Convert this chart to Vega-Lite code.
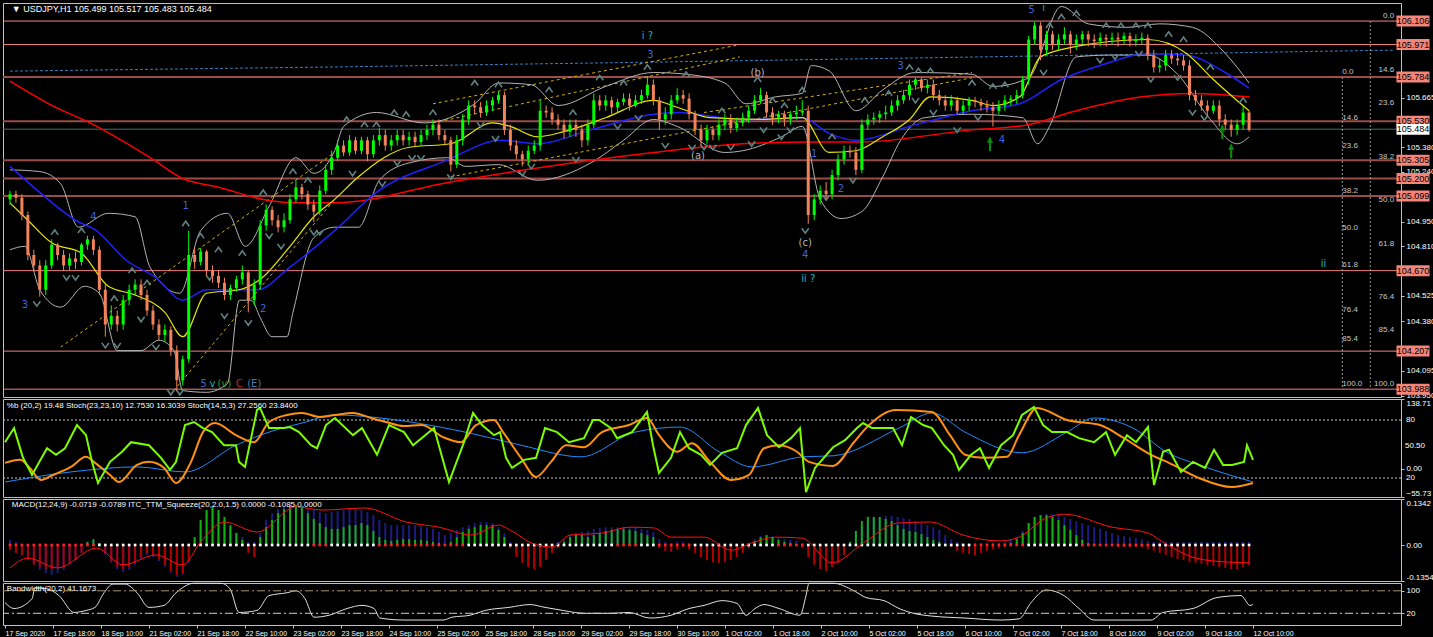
{
"$schema":"https://vega.github.io/schema/vega-lite/v6.json",
"background":"#000000",
"padding":{"left":0,"top":2,"right":0,"bottom":0},
"spacing":2,
"bounds":"flush",
"config":{"view":{"stroke":"#c0c0c0","strokeWidth":1},"axis":{"labelFont":"Liberation Sans","labelFontSize":8,"labelColor":"#ffffff","tickColor":"#c0c0c0","domain":false,"grid":false,"tickSize":3,"labelPadding":2,"labelOverlap":false},"text":{"font":"Liberation Sans"}},
"datasets":{
"c":[
{"n":0,"o":105.08,"h":105.13,"l":105.05,"c":105.11,"d":-0.015,"v":0.015,"q":1},
{"n":2,"o":105.11,"h":105.13,"l":105.06,"c":105.09,"d":-0.023,"v":0.009,"q":1},
{"n":4,"o":105.09,"h":105.11,"l":104.96,"c":104.99,"d":-0.029,"v":-0.009,"q":1},
{"n":6,"o":104.99,"h":105.01,"l":104.73,"c":104.76,"d":-0.044,"v":-0.029,"q":1},
{"n":8,"o":104.76,"h":104.79,"l":104.67,"c":104.70,"d":-0.058,"v":-0.052,"q":1},
{"n":10,"o":104.70,"h":104.73,"l":104.52,"c":104.56,"d":-0.064,"v":-0.073,"q":1},
{"n":12,"o":104.56,"h":104.73,"l":104.53,"c":104.70,"d":-0.070,"v":-0.082,"q":1},
{"n":14,"o":104.70,"h":104.85,"l":104.68,"c":104.82,"d":-0.070,"v":-0.087,"q":1},
{"n":16,"o":104.82,"h":104.83,"l":104.73,"c":104.76,"d":-0.067,"v":-0.082,"q":1},
{"n":18,"o":104.76,"h":104.79,"l":104.67,"c":104.70,"d":-0.064,"v":-0.073,"q":1},
{"n":20,"o":104.70,"h":104.77,"l":104.67,"c":104.74,"d":-0.052,"v":-0.058,"q":1},
{"n":22,"o":104.74,"h":104.78,"l":104.68,"c":104.72,"d":-0.041,"v":-0.044,"q":1},
{"n":24,"o":104.72,"h":104.83,"l":104.70,"c":104.82,"d":-0.023,"v":-0.023,"q":1},
{"n":26,"o":104.82,"h":104.87,"l":104.79,"c":104.85,"d":0.009,"v":0.009,"q":1},
{"n":28,"o":104.85,"h":104.87,"l":104.76,"c":104.79,"d":0.017,"v":0.015,"q":1},
{"n":30,"o":104.79,"h":104.81,"l":104.53,"c":104.56,"d":0.006,"v":0.006,"q":0},
{"n":32,"o":104.56,"h":104.59,"l":104.29,"c":104.36,"d":-0.023,"v":-0.029,"q":0},
{"n":34,"o":104.36,"h":104.47,"l":104.33,"c":104.41,"d":-0.047,"v":-0.052,"q":0},
{"n":36,"o":104.41,"h":104.44,"l":104.32,"c":104.36,"d":-0.064,"v":-0.070,"q":0},
{"n":38,"o":104.36,"h":104.53,"l":104.33,"c":104.50,"d":-0.070,"v":-0.079,"q":0},
{"n":40,"o":104.50,"h":104.59,"l":104.47,"c":104.56,"d":-0.064,"v":-0.073,"q":0},
{"n":42,"o":104.56,"h":104.62,"l":104.53,"c":104.59,"d":-0.052,"v":-0.058,"q":0},
{"n":44,"o":104.59,"h":104.62,"l":104.50,"c":104.53,"d":-0.035,"v":-0.041,"q":0},
{"n":46,"o":104.53,"h":104.56,"l":104.41,"c":104.44,"d":-0.023,"v":-0.029,"q":0},
{"n":48,"o":104.44,"h":104.47,"l":104.33,"c":104.36,"d":-0.029,"v":-0.035,"q":0},
{"n":50,"o":104.36,"h":104.39,"l":104.27,"c":104.30,"d":-0.041,"v":-0.047,"q":0},
{"n":52,"o":104.30,"h":104.36,"l":104.26,"c":104.33,"d":-0.058,"v":-0.064,"q":0},
{"n":54,"o":104.33,"h":104.35,"l":104.18,"c":104.21,"d":-0.076,"v":-0.082,"q":0},
{"n":56,"o":104.21,"h":104.24,"l":103.98,"c":104.04,"d":-0.087,"v":-0.093,"q":0},
{"n":58,"o":104.04,"h":104.18,"l":104.01,"c":104.16,"d":-0.082,"v":-0.087,"q":0},
{"n":60,"o":104.16,"h":104.90,"l":104.14,"c":104.76,"d":-0.044,"v":-0.052,"q":0},
{"n":62,"o":104.76,"h":104.80,"l":104.68,"c":104.72,"d":0.023,"v":0.015,"q":0},
{"n":64,"o":104.72,"h":104.80,"l":104.70,"c":104.78,"d":0.073,"v":0.064,"q":0},
{"n":66,"o":104.78,"h":104.79,"l":104.64,"c":104.67,"d":0.102,"v":0.096,"q":0},
{"n":68,"o":104.67,"h":104.70,"l":104.60,"c":104.64,"d":0.111,"v":0.105,"q":0},
{"n":70,"o":104.64,"h":104.67,"l":104.57,"c":104.60,"d":0.102,"v":0.093,"q":0},
{"n":72,"o":104.60,"h":104.63,"l":104.50,"c":104.53,"d":0.082,"v":0.073,"q":0},
{"n":74,"o":104.53,"h":104.59,"l":104.50,"c":104.57,"d":0.058,"v":0.052,"q":0},
{"n":76,"o":104.57,"h":104.64,"l":104.55,"c":104.62,"d":0.035,"v":0.035,"q":0},
{"n":78,"o":104.62,"h":104.70,"l":104.59,"c":104.66,"d":0.015,"v":0.023,"q":0},
{"n":80,"o":104.66,"h":104.67,"l":104.43,"c":104.50,"d":-0.023,"v":0.009,"q":0},
{"n":82,"o":104.50,"h":104.62,"l":104.47,"c":104.59,"d":-0.035,"v":0.009,"q":0},
{"n":84,"o":104.59,"h":104.96,"l":104.56,"c":104.93,"d":0.023,"v":0.035,"q":0},
{"n":86,"o":104.93,"h":105.05,"l":104.90,"c":105.02,"d":0.052,"v":0.073,"q":0},
{"n":88,"o":105.02,"h":105.04,"l":104.93,"c":104.96,"d":0.073,"v":0.093,"q":0},
{"n":90,"o":104.96,"h":104.99,"l":104.89,"c":104.92,"d":0.093,"v":0.105,"q":0},
{"n":92,"o":104.92,"h":105.00,"l":104.89,"c":104.96,"d":0.105,"v":0.111,"q":0},
{"n":94,"o":104.96,"h":105.11,"l":104.94,"c":105.08,"d":0.111,"v":0.117,"q":0},
{"n":96,"o":105.08,"h":105.19,"l":105.06,"c":105.15,"d":0.117,"v":0.117,"q":0},
{"n":98,"o":105.15,"h":105.17,"l":105.08,"c":105.11,"d":0.111,"v":0.114,"q":0},
{"n":100,"o":105.11,"h":105.13,"l":105.02,"c":105.05,"d":0.093,"v":0.108,"q":0},
{"n":102,"o":105.05,"h":105.08,"l":104.95,"c":105.01,"d":0.076,"v":0.102,"q":1},
{"n":104,"o":105.01,"h":105.16,"l":104.99,"c":105.13,"d":0.064,"v":0.096,"q":1},
{"n":106,"o":105.13,"h":105.28,"l":105.11,"c":105.25,"d":0.052,"v":0.093,"q":1},
{"n":108,"o":105.25,"h":105.36,"l":105.22,"c":105.32,"d":0.047,"v":0.096,"q":0},
{"n":110,"o":105.32,"h":105.42,"l":105.30,"c":105.39,"d":0.047,"v":0.099,"q":0},
{"n":112,"o":105.39,"h":105.42,"l":105.33,"c":105.35,"d":0.052,"v":0.102,"q":0},
{"n":114,"o":105.35,"h":105.45,"l":105.33,"c":105.42,"d":0.058,"v":0.105,"q":0},
{"n":116,"o":105.42,"h":105.44,"l":105.34,"c":105.36,"d":0.058,"v":0.105,"q":0},
{"n":118,"o":105.36,"h":105.44,"l":105.34,"c":105.42,"d":0.064,"v":0.102,"q":0},
{"n":120,"o":105.42,"h":105.44,"l":105.30,"c":105.34,"d":0.058,"v":0.096,"q":0},
{"n":122,"o":105.34,"h":105.45,"l":105.32,"c":105.42,"d":0.041,"v":0.087,"q":0},
{"n":124,"o":105.42,"h":105.49,"l":105.39,"c":105.45,"d":0.023,"v":0.073,"q":1},
{"n":126,"o":105.45,"h":105.48,"l":105.36,"c":105.39,"d":0.015,"v":0.064,"q":1},
{"n":128,"o":105.39,"h":105.45,"l":105.36,"c":105.42,"d":0.012,"v":0.058,"q":1},
{"n":130,"o":105.42,"h":105.48,"l":105.39,"c":105.45,"d":0.015,"v":0.058,"q":1},
{"n":132,"o":105.45,"h":105.48,"l":105.39,"c":105.42,"d":0.017,"v":0.058,"q":1},
{"n":134,"o":105.42,"h":105.47,"l":105.39,"c":105.44,"d":0.017,"v":0.058,"q":1},
{"n":136,"o":105.44,"h":105.47,"l":105.38,"c":105.41,"d":0.015,"v":0.058,"q":1},
{"n":138,"o":105.41,"h":105.48,"l":105.39,"c":105.45,"d":0.015,"v":0.055,"q":1},
{"n":140,"o":105.45,"h":105.51,"l":105.42,"c":105.48,"d":0.012,"v":0.052,"q":1},
{"n":142,"o":105.48,"h":105.54,"l":105.45,"c":105.51,"d":0.009,"v":0.047,"q":1},
{"n":144,"o":105.51,"h":105.54,"l":105.42,"c":105.45,"d":0.006,"v":0.038,"q":1},
{"n":146,"o":105.45,"h":105.48,"l":105.39,"c":105.42,"d":0.001,"v":0.029,"q":1},
{"n":148,"o":105.42,"h":105.44,"l":105.24,"c":105.28,"d":0.009,"v":0.035,"q":1},
{"n":150,"o":105.28,"h":105.45,"l":105.26,"c":105.42,"d":0.023,"v":0.044,"q":1},
{"n":152,"o":105.42,"h":105.57,"l":105.39,"c":105.54,"d":0.038,"v":0.052,"q":1},
{"n":154,"o":105.54,"h":105.65,"l":105.51,"c":105.62,"d":0.047,"v":0.058,"q":0},
{"n":156,"o":105.62,"h":105.65,"l":105.57,"c":105.61,"d":0.052,"v":0.064,"q":0},
{"n":158,"o":105.61,"h":105.64,"l":105.55,"c":105.58,"d":0.058,"v":0.067,"q":0},
{"n":160,"o":105.58,"h":105.65,"l":105.56,"c":105.62,"d":0.058,"v":0.067,"q":0},
{"n":162,"o":105.62,"h":105.67,"l":105.59,"c":105.65,"d":0.058,"v":0.064,"q":0},
{"n":164,"o":105.65,"h":105.70,"l":105.63,"c":105.68,"d":0.044,"v":0.052,"q":0},
{"n":166,"o":105.68,"h":105.70,"l":105.45,"c":105.48,"d":0.023,"v":0.035,"q":0},
{"n":168,"o":105.48,"h":105.51,"l":105.36,"c":105.39,"d":-0.009,"v":0.009,"q":0},
{"n":170,"o":105.39,"h":105.42,"l":105.31,"c":105.34,"d":-0.035,"v":-0.023,"q":0},
{"n":172,"o":105.34,"h":105.36,"l":105.27,"c":105.31,"d":-0.052,"v":-0.044,"q":0},
{"n":174,"o":105.31,"h":105.39,"l":105.28,"c":105.36,"d":-0.064,"v":-0.058,"q":0},
{"n":176,"o":105.36,"h":105.42,"l":105.34,"c":105.39,"d":-0.070,"v":-0.064,"q":0},
{"n":178,"o":105.39,"h":105.65,"l":105.36,"c":105.59,"d":-0.064,"v":-0.058,"q":0},
{"n":180,"o":105.59,"h":105.62,"l":105.55,"c":105.58,"d":-0.044,"v":-0.035,"q":0},
{"n":182,"o":105.58,"h":105.61,"l":105.51,"c":105.54,"d":-0.023,"v":-0.017,"q":0},
{"n":184,"o":105.54,"h":105.57,"l":105.48,"c":105.51,"d":-0.009,"v":0.009,"q":0},
{"n":186,"o":105.51,"h":105.54,"l":105.43,"c":105.47,"d":0.009,"v":0.017,"q":0},
{"n":188,"o":105.47,"h":105.54,"l":105.44,"c":105.51,"d":0.023,"v":0.029,"q":0},
{"n":190,"o":105.51,"h":105.54,"l":105.44,"c":105.48,"d":0.029,"v":0.035,"q":0},
{"n":192,"o":105.48,"h":105.51,"l":105.38,"c":105.42,"d":0.029,"v":0.038,"q":0},
{"n":194,"o":105.42,"h":105.54,"l":105.39,"c":105.51,"d":0.023,"v":0.041,"q":0},
{"n":196,"o":105.51,"h":105.69,"l":105.49,"c":105.65,"d":0.029,"v":0.047,"q":0},
{"n":198,"o":105.65,"h":105.68,"l":105.59,"c":105.62,"d":0.035,"v":0.050,"q":0},
{"n":200,"o":105.62,"h":105.68,"l":105.59,"c":105.65,"d":0.041,"v":0.052,"q":0},
{"n":202,"o":105.65,"h":105.67,"l":105.57,"c":105.61,"d":0.044,"v":0.052,"q":0},
{"n":204,"o":105.61,"h":105.66,"l":105.58,"c":105.64,"d":0.047,"v":0.052,"q":1},
{"n":206,"o":105.64,"h":105.69,"l":105.62,"c":105.66,"d":0.047,"v":0.052,"q":1},
{"n":208,"o":105.66,"h":105.69,"l":105.59,"c":105.62,"d":0.044,"v":0.052,"q":1},
{"n":210,"o":105.62,"h":105.68,"l":105.61,"c":105.65,"d":0.041,"v":0.050,"q":1},
{"n":212,"o":105.65,"h":105.71,"l":105.63,"c":105.68,"d":0.035,"v":0.047,"q":0},
{"n":214,"o":105.68,"h":105.79,"l":105.66,"c":105.74,"d":0.029,"v":0.044,"q":0},
{"n":216,"o":105.74,"h":105.77,"l":105.62,"c":105.65,"d":0.023,"v":0.038,"q":0},
{"n":218,"o":105.65,"h":105.67,"l":105.48,"c":105.54,"d":-0.009,"v":0.017,"q":1},
{"n":220,"o":105.54,"h":105.61,"l":105.51,"c":105.57,"d":-0.017,"v":0.009,"q":1},
{"n":222,"o":105.57,"h":105.68,"l":105.54,"c":105.65,"d":-0.020,"v":0.006,"q":1},
{"n":224,"o":105.65,"h":105.72,"l":105.63,"c":105.68,"d":-0.012,"v":0.009,"q":1},
{"n":226,"o":105.68,"h":105.71,"l":105.63,"c":105.66,"d":-0.006,"v":0.009,"q":1},
{"n":228,"o":105.66,"h":105.69,"l":105.54,"c":105.57,"d":-0.012,"v":0.006,"q":1},
{"n":230,"o":105.57,"h":105.59,"l":105.45,"c":105.48,"d":-0.023,"v":-0.009,"q":0},
{"n":232,"o":105.48,"h":105.51,"l":105.39,"c":105.42,"d":-0.035,"v":-0.017,"q":0},
{"n":234,"o":105.42,"h":105.51,"l":105.40,"c":105.48,"d":-0.044,"v":-0.029,"q":0},
{"n":236,"o":105.48,"h":105.50,"l":105.42,"c":105.45,"d":-0.050,"v":-0.035,"q":0},
{"n":238,"o":105.45,"h":105.54,"l":105.42,"c":105.51,"d":-0.052,"v":-0.041,"q":0},
{"n":240,"o":105.51,"h":105.57,"l":105.48,"c":105.54,"d":-0.050,"v":-0.041,"q":0},
{"n":242,"o":105.54,"h":105.57,"l":105.46,"c":105.49,"d":-0.044,"v":-0.035,"q":0},
{"n":244,"o":105.49,"h":105.55,"l":105.47,"c":105.52,"d":-0.035,"v":-0.026,"q":0},
{"n":246,"o":105.52,"h":105.58,"l":105.50,"c":105.55,"d":-0.023,"v":-0.015,"q":0},
{"n":248,"o":105.55,"h":105.62,"l":105.52,"c":105.59,"d":-0.009,"v":0.006,"q":0},
{"n":250,"o":105.59,"h":105.68,"l":105.57,"c":105.65,"d":0.012,"v":0.017,"q":0},
{"n":252,"o":105.65,"h":105.72,"l":105.63,"c":105.68,"d":0.023,"v":0.026,"q":0},
{"n":254,"o":105.68,"h":105.70,"l":105.55,"c":105.58,"d":0.029,"v":0.029,"q":0},
{"n":256,"o":105.58,"h":105.61,"l":105.51,"c":105.55,"d":0.023,"v":0.026,"q":0},
{"n":258,"o":105.55,"h":105.59,"l":105.52,"c":105.57,"d":0.015,"v":0.020,"q":1},
{"n":260,"o":105.57,"h":105.59,"l":105.50,"c":105.54,"d":0.009,"v":0.017,"q":1},
{"n":262,"o":105.54,"h":105.59,"l":105.51,"c":105.57,"d":0.006,"v":0.015,"q":1},
{"n":264,"o":105.57,"h":105.62,"l":105.54,"c":105.58,"d":0.003,"v":0.012,"q":1},
{"n":266,"o":105.58,"h":105.65,"l":105.56,"c":105.59,"d":-0.009,"v":0.006,"q":1},
{"n":268,"o":105.59,"h":105.62,"l":104.94,"c":104.99,"d":-0.035,"v":-0.017,"q":0},
{"n":270,"o":104.99,"h":105.11,"l":104.96,"c":105.08,"d":-0.058,"v":-0.041,"q":0},
{"n":272,"o":105.08,"h":105.16,"l":105.05,"c":105.13,"d":-0.070,"v":-0.058,"q":0},
{"n":274,"o":105.13,"h":105.18,"l":105.08,"c":105.11,"d":-0.076,"v":-0.070,"q":0},
{"n":276,"o":105.11,"h":105.25,"l":105.08,"c":105.22,"d":-0.064,"v":-0.064,"q":0},
{"n":278,"o":105.22,"h":105.34,"l":105.19,"c":105.31,"d":-0.052,"v":-0.052,"q":0},
{"n":280,"o":105.31,"h":105.39,"l":105.28,"c":105.36,"d":-0.029,"v":-0.029,"q":0},
{"n":282,"o":105.36,"h":105.39,"l":105.32,"c":105.35,"d":0.009,"v":0.009,"q":0},
{"n":284,"o":105.35,"h":105.38,"l":105.22,"c":105.25,"d":0.041,"v":0.029,"q":0},
{"n":286,"o":105.25,"h":105.54,"l":105.23,"c":105.51,"d":0.070,"v":0.052,"q":0},
{"n":288,"o":105.51,"h":105.57,"l":105.48,"c":105.54,"d":0.082,"v":0.070,"q":0},
{"n":290,"o":105.54,"h":105.58,"l":105.51,"c":105.55,"d":0.082,"v":0.079,"q":0},
{"n":292,"o":105.55,"h":105.59,"l":105.52,"c":105.57,"d":0.082,"v":0.082,"q":0},
{"n":294,"o":105.57,"h":105.62,"l":105.54,"c":105.58,"d":0.076,"v":0.085,"q":0},
{"n":296,"o":105.58,"h":105.65,"l":105.56,"c":105.62,"d":0.070,"v":0.085,"q":0},
{"n":298,"o":105.62,"h":105.68,"l":105.59,"c":105.65,"d":0.058,"v":0.082,"q":0},
{"n":300,"o":105.65,"h":105.71,"l":105.63,"c":105.68,"d":0.047,"v":0.079,"q":0},
{"n":302,"o":105.68,"h":105.77,"l":105.65,"c":105.74,"d":0.041,"v":0.076,"q":0},
{"n":304,"o":105.74,"h":105.78,"l":105.71,"c":105.77,"d":0.038,"v":0.070,"q":0},
{"n":306,"o":105.77,"h":105.78,"l":105.70,"c":105.72,"d":0.032,"v":0.064,"q":0},
{"n":308,"o":105.72,"h":105.77,"l":105.69,"c":105.74,"d":0.023,"v":0.058,"q":0},
{"n":310,"o":105.74,"h":105.77,"l":105.65,"c":105.68,"d":0.015,"v":0.052,"q":0},
{"n":312,"o":105.68,"h":105.71,"l":105.62,"c":105.65,"d":0.009,"v":0.044,"q":0},
{"n":314,"o":105.65,"h":105.68,"l":105.59,"c":105.62,"d":0.003,"v":0.029,"q":0},
{"n":316,"o":105.62,"h":105.68,"l":105.59,"c":105.65,"d":-0.006,"v":0.017,"q":0},
{"n":318,"o":105.65,"h":105.67,"l":105.57,"c":105.59,"d":-0.017,"v":0.009,"q":0},
{"n":320,"o":105.59,"h":105.65,"l":105.57,"c":105.62,"d":-0.023,"v":0.006,"q":0},
{"n":322,"o":105.62,"h":105.67,"l":105.59,"c":105.65,"d":-0.026,"v":0.006,"q":0},
{"n":324,"o":105.65,"h":105.67,"l":105.61,"c":105.64,"d":-0.029,"v":0.006,"q":1},
{"n":326,"o":105.64,"h":105.66,"l":105.59,"c":105.62,"d":-0.023,"v":0.006,"q":1},
{"n":328,"o":105.62,"h":105.65,"l":105.58,"c":105.61,"d":-0.017,"v":0.006,"q":1},
{"n":330,"o":105.61,"h":105.64,"l":105.50,"c":105.59,"d":-0.012,"v":0.006,"q":1},
{"n":332,"o":105.59,"h":105.65,"l":105.57,"c":105.62,"d":-0.009,"v":0.006,"q":1},
{"n":334,"o":105.62,"h":105.68,"l":105.59,"c":105.65,"d":-0.006,"v":0.009,"q":1},
{"n":336,"o":105.65,"h":105.68,"l":105.62,"c":105.66,"d":0.006,"v":0.015,"q":1},
{"n":338,"o":105.66,"h":105.71,"l":105.63,"c":105.68,"d":0.017,"v":0.023,"q":1},
{"n":340,"o":105.68,"h":105.79,"l":105.66,"c":105.77,"d":0.035,"v":0.041,"q":1},
{"n":342,"o":105.77,"h":106.02,"l":105.74,"c":106.00,"d":0.064,"v":0.064,"q":0},
{"n":344,"o":106.00,"h":106.10,"l":105.97,"c":106.08,"d":0.082,"v":0.082,"q":0},
{"n":346,"o":106.08,"h":106.10,"l":105.88,"c":105.94,"d":0.087,"v":0.087,"q":0},
{"n":348,"o":105.94,"h":106.05,"l":105.91,"c":106.03,"d":0.087,"v":0.090,"q":0},
{"n":350,"o":106.03,"h":106.05,"l":105.94,"c":105.97,"d":0.082,"v":0.090,"q":0},
{"n":352,"o":105.97,"h":106.03,"l":105.94,"c":106.00,"d":0.073,"v":0.087,"q":0},
{"n":354,"o":106.00,"h":106.07,"l":105.97,"c":106.03,"d":0.058,"v":0.082,"q":0},
{"n":356,"o":106.03,"h":106.05,"l":105.92,"c":105.97,"d":0.044,"v":0.076,"q":0},
{"n":358,"o":105.97,"h":106.03,"l":105.94,"c":106.00,"d":0.029,"v":0.070,"q":0},
{"n":360,"o":106.00,"h":106.05,"l":105.97,"c":106.03,"d":0.015,"v":0.064,"q":1},
{"n":362,"o":106.03,"h":106.05,"l":105.96,"c":106.00,"d":0.006,"v":0.058,"q":1},
{"n":364,"o":106.00,"h":106.03,"l":105.95,"c":105.99,"d":0.001,"v":0.052,"q":1},
{"n":366,"o":105.99,"h":106.04,"l":105.96,"c":106.01,"d":-0.003,"v":0.047,"q":1},
{"n":368,"o":106.01,"h":106.03,"l":105.96,"c":106.00,"d":-0.003,"v":0.041,"q":1},
{"n":370,"o":106.00,"h":106.04,"l":105.97,"c":106.01,"d":-0.003,"v":0.035,"q":1},
{"n":372,"o":106.01,"h":106.04,"l":105.96,"c":106.00,"d":-0.006,"v":0.029,"q":1},
{"n":374,"o":106.00,"h":106.04,"l":105.97,"c":106.02,"d":-0.006,"v":0.026,"q":1},
{"n":376,"o":106.02,"h":106.04,"l":105.96,"c":105.99,"d":-0.006,"v":0.023,"q":1},
{"n":378,"o":105.99,"h":106.03,"l":105.96,"c":106.00,"d":-0.006,"v":0.020,"q":1},
{"n":380,"o":106.00,"h":106.04,"l":105.97,"c":106.01,"d":-0.006,"v":0.017,"q":1},
{"n":382,"o":106.01,"h":106.03,"l":105.88,"c":105.91,"d":-0.012,"v":0.012,"q":1},
{"n":384,"o":105.91,"h":105.94,"l":105.81,"c":105.84,"d":-0.017,"v":0.009,"q":0},
{"n":386,"o":105.84,"h":105.89,"l":105.81,"c":105.85,"d":-0.023,"v":0.009,"q":0},
{"n":388,"o":105.85,"h":105.94,"l":105.82,"c":105.91,"d":-0.029,"v":0.009,"q":0},
{"n":390,"o":105.91,"h":105.94,"l":105.86,"c":105.89,"d":-0.035,"v":0.009,"q":0},
{"n":392,"o":105.89,"h":105.92,"l":105.85,"c":105.88,"d":-0.041,"v":0.009,"q":0},
{"n":394,"o":105.88,"h":105.91,"l":105.82,"c":105.85,"d":-0.044,"v":0.009,"q":0},
{"n":396,"o":105.85,"h":105.88,"l":105.65,"c":105.68,"d":-0.050,"v":0.009,"q":0},
{"n":398,"o":105.68,"h":105.71,"l":105.62,"c":105.65,"d":-0.052,"v":0.009,"q":0},
{"n":400,"o":105.65,"h":105.68,"l":105.59,"c":105.62,"d":-0.055,"v":0.009,"q":0},
{"n":402,"o":105.62,"h":105.65,"l":105.56,"c":105.59,"d":-0.058,"v":0.009,"q":0},
{"n":404,"o":105.59,"h":105.65,"l":105.57,"c":105.62,"d":-0.061,"v":0.009,"q":0},
{"n":406,"o":105.62,"h":105.65,"l":105.50,"c":105.54,"d":-0.064,"v":0.009,"q":0},
{"n":408,"o":105.54,"h":105.57,"l":105.48,"c":105.51,"d":-0.067,"v":0.009,"q":0},
{"n":410,"o":105.51,"h":105.54,"l":105.44,"c":105.48,"d":-0.070,"v":0.009,"q":0},
{"n":412,"o":105.48,"h":105.54,"l":105.45,"c":105.51,"d":-0.070,"v":0.009,"q":0},
{"n":414,"o":105.51,"h":105.62,"l":105.48,"c":105.58,"d":-0.064,"v":0.009,"q":0},
{"n":416,"o":105.58,"h":105.59,"l":105.47,"c":105.48,"d":-0.058,"v":0.009,"q":0}
],
"ind":[
{"k":"r","n":0,"p":105.76},{"k":"r","n":13,"p":105.63},{"k":"r","n":28,"p":105.51},{"k":"r","n":48,"p":105.31},{"k":"r","n":58,"p":105.20},{"k":"r","n":70,"p":105.15},{"k":"r","n":85,"p":105.08},{"k":"r","n":96,"p":105.06},{"k":"r","n":109,"p":105.06},{"k":"r","n":148,"p":105.18},{"k":"r","n":173,"p":105.25},{"k":"r","n":216,"p":105.35},{"k":"r","n":246,"p":105.40},{"k":"r","n":268,"p":105.41},{"k":"r","n":285,"p":105.41},{"k":"r","n":323,"p":105.48},{"k":"r","n":342,"p":105.51},{"k":"r","n":358,"p":105.59},{"k":"r","n":380,"p":105.67},{"k":"r","n":397,"p":105.69},{"k":"r","n":416,"p":105.67},
{"k":"u","n":0,"p":105.27},{"k":"u","n":10,"p":105.12},{"k":"u","n":22,"p":104.96},{"k":"u","n":29,"p":104.90},{"k":"u","n":39,"p":104.73},{"k":"u","n":49,"p":104.63},{"k":"u","n":58,"p":104.50},{"k":"u","n":66,"p":104.56},{"k":"u","n":83,"p":104.56},{"k":"u","n":94,"p":104.69},{"k":"u","n":109,"p":104.90},{"k":"u","n":123,"p":105.12},{"k":"u","n":146,"p":105.30},{"k":"u","n":165,"p":105.42},{"k":"u","n":177,"p":105.40},{"k":"u","n":195,"p":105.48},{"k":"u","n":216,"p":105.57},{"k":"u","n":224,"p":105.58},{"k":"u","n":246,"p":105.54},{"k":"u","n":266,"p":105.55},{"k":"u","n":275,"p":105.46},{"k":"u","n":284,"p":105.42},{"k":"u","n":302,"p":105.50},{"k":"u","n":323,"p":105.59},{"k":"u","n":339,"p":105.63},{"k":"u","n":353,"p":105.77},{"k":"u","n":366,"p":105.85},{"k":"u","n":382,"p":105.92},{"k":"u","n":395,"p":105.91},{"k":"u","n":408,"p":105.81},{"k":"u","n":416,"p":105.72},
{"k":"y","n":0,"p":105.06},{"k":"y","n":6,"p":104.96},{"k":"y","n":14,"p":104.83},{"k":"y","n":24,"p":104.77},{"k":"y","n":33,"p":104.58},{"k":"y","n":42,"p":104.53},{"k":"y","n":52,"p":104.43},{"k":"y","n":58,"p":104.29},{"k":"y","n":66,"p":104.54},{"k":"y","n":77,"p":104.56},{"k":"y","n":84,"p":104.62},{"k":"y","n":94,"p":104.81},{"k":"y","n":102,"p":104.98},{"k":"y","n":109,"p":105.08},{"k":"y","n":117,"p":105.21},{"k":"y","n":134,"p":105.38},{"k":"y","n":148,"p":105.40},{"k":"y","n":162,"p":105.52},{"k":"y","n":168,"p":105.50},{"k":"y","n":177,"p":105.44},{"k":"y","n":186,"p":105.47},{"k":"y","n":200,"p":105.55},{"k":"y","n":216,"p":105.65},{"k":"y","n":224,"p":105.61},{"k":"y","n":235,"p":105.55},{"k":"y","n":252,"p":105.54},{"k":"y","n":266,"p":105.55},{"k":"y","n":275,"p":105.35},{"k":"y","n":284,"p":105.36},{"k":"y","n":293,"p":105.44},{"k":"y","n":302,"p":105.54},{"k":"y","n":309,"p":105.67},{"k":"y","n":323,"p":105.65},{"k":"y","n":330,"p":105.62},{"k":"y","n":339,"p":105.67},{"k":"y","n":346,"p":105.90},{"k":"y","n":358,"p":105.96},{"k":"y","n":382,"p":106.00},{"k":"y","n":395,"p":105.92},{"k":"y","n":404,"p":105.77},{"k":"y","n":416,"p":105.59},
{"k":"bu","n":0,"p":105.25},{"k":"bu","n":10,"p":105.24},{"k":"bu","n":17,"p":105.17},{"k":"bu","n":23,"p":104.92},{"k":"bu","n":33,"p":105.00},{"k":"bu","n":42,"p":104.98},{"k":"bu","n":47,"p":104.69},{"k":"bu","n":57,"p":104.54},{"k":"bu","n":64,"p":104.90},{"k":"bu","n":73,"p":105.00},{"k":"bu","n":79,"p":104.81},{"k":"bu","n":87,"p":105.04},{"k":"bu","n":96,"p":105.32},{"k":"bu","n":102,"p":105.23},{"k":"bu","n":109,"p":105.36},{"k":"bu","n":112,"p":105.50},{"k":"bu","n":123,"p":105.58},{"k":"bu","n":139,"p":105.52},{"k":"bu","n":156,"p":105.63},{"k":"bu","n":164,"p":105.75},{"k":"bu","n":175,"p":105.74},{"k":"bu","n":184,"p":105.62},{"k":"bu","n":200,"p":105.73},{"k":"bu","n":216,"p":105.81},{"k":"bu","n":227,"p":105.80},{"k":"bu","n":240,"p":105.75},{"k":"bu","n":247,"p":105.63},{"k":"bu","n":257,"p":105.67},{"k":"bu","n":266,"p":105.69},{"k":"bu","n":269,"p":105.85},{"k":"bu","n":275,"p":105.82},{"k":"bu","n":284,"p":105.59},{"k":"bu","n":293,"p":105.71},{"k":"bu","n":304,"p":105.81},{"k":"bu","n":323,"p":105.80},{"k":"bu","n":330,"p":105.73},{"k":"bu","n":342,"p":105.78},{"k":"bu","n":353,"p":106.19},{"k":"bu","n":362,"p":106.09},{"k":"bu","n":375,"p":106.07},{"k":"bu","n":386,"p":106.09},{"k":"bu","n":397,"p":106.07},{"k":"bu","n":408,"p":105.92},{"k":"bu","n":416,"p":105.75},
{"k":"bl","n":0,"p":104.79},{"k":"bl","n":5,"p":104.81},{"k":"bl","n":10,"p":104.56},{"k":"bl","n":17,"p":104.46},{"k":"bl","n":25,"p":104.58},{"k":"bl","n":30,"p":104.54},{"k":"bl","n":36,"p":104.21},{"k":"bl","n":44,"p":104.21},{"k":"bl","n":50,"p":104.27},{"k":"bl","n":55,"p":104.21},{"k":"bl","n":58,"p":103.98},{"k":"bl","n":66,"p":103.97},{"k":"bl","n":73,"p":104.02},{"k":"bl","n":77,"p":104.50},{"k":"bl","n":81,"p":104.50},{"k":"bl","n":84,"p":104.40},{"k":"bl","n":88,"p":104.29},{"k":"bl","n":93,"p":104.29},{"k":"bl","n":95,"p":104.43},{"k":"bl","n":102,"p":104.86},{"k":"bl","n":109,"p":104.92},{"k":"bl","n":117,"p":104.92},{"k":"bl","n":124,"p":105.19},{"k":"bl","n":134,"p":105.29},{"k":"bl","n":147,"p":105.32},{"k":"bl","n":153,"p":105.27},{"k":"bl","n":164,"p":105.28},{"k":"bl","n":177,"p":105.19},{"k":"bl","n":195,"p":105.29},{"k":"bl","n":206,"p":105.42},{"k":"bl","n":216,"p":105.54},{"k":"bl","n":224,"p":105.50},{"k":"bl","n":240,"p":105.35},{"k":"bl","n":246,"p":105.36},{"k":"bl","n":259,"p":105.44},{"k":"bl","n":266,"p":105.50},{"k":"bl","n":272,"p":105.08},{"k":"bl","n":279,"p":104.97},{"k":"bl","n":286,"p":105.01},{"k":"bl","n":293,"p":105.21},{"k":"bl","n":299,"p":105.42},{"k":"bl","n":307,"p":105.55},{"k":"bl","n":323,"p":105.57},{"k":"bl","n":340,"p":105.55},{"k":"bl","n":345,"p":105.40},{"k":"bl","n":349,"p":105.50},{"k":"bl","n":358,"p":105.90},{"k":"bl","n":369,"p":105.91},{"k":"bl","n":382,"p":105.91},{"k":"bl","n":392,"p":105.80},{"k":"bl","n":403,"p":105.54},{"k":"bl","n":412,"p":105.40},{"k":"bl","n":416,"p":105.44}
],
"fr":[
{"u":1,"n":15,"p":104.89},{"u":1,"n":24,"p":104.90},{"u":1,"n":35,"p":104.51},{"u":1,"n":41,"p":104.67},{"u":1,"n":46,"p":104.60},{"u":1,"n":59,"p":104.94},{"u":1,"n":64,"p":104.87},{"u":1,"n":70,"p":104.79},{"u":1,"n":78,"p":104.77},{"u":1,"n":85,"p":105.12},{"u":1,"n":95,"p":105.24},{"u":1,"n":100,"p":105.19},{"u":1,"n":113,"p":105.54},{"u":1,"n":119,"p":105.51},{"u":1,"n":123,"p":105.51},{"u":1,"n":129,"p":105.58},{"u":1,"n":133,"p":105.57},{"u":1,"n":142,"p":105.58},{"u":1,"n":156,"p":105.75},{"u":1,"n":164,"p":105.74},{"u":1,"n":181,"p":105.71},{"u":1,"n":189,"p":105.58},{"u":1,"n":198,"p":105.78},{"u":1,"n":206,"p":105.75},{"u":1,"n":214,"p":105.84},{"u":1,"n":227,"p":105.80},{"u":1,"n":239,"p":105.59},{"u":1,"n":251,"p":105.77},{"u":1,"n":256,"p":105.65},{"u":1,"n":260,"p":105.62},{"u":1,"n":266,"p":105.71},{"u":1,"n":276,"p":105.44},{"u":1,"n":287,"p":105.65},{"u":1,"n":295,"p":105.69},{"u":1,"n":302,"p":105.84},{"u":1,"n":305,"p":105.82},{"u":1,"n":309,"p":105.82},{"u":1,"n":323,"p":105.75},{"u":1,"n":330,"p":105.73},{"u":1,"n":334,"p":105.74},{"u":1,"n":349,"p":106.08},{"u":1,"n":353,"p":106.13},{"u":1,"n":358,"p":106.15},{"u":1,"n":368,"p":106.08},{"u":1,"n":373,"p":106.08},{"u":1,"n":378,"p":106.08},{"u":1,"n":382,"p":106.08},{"u":1,"n":389,"p":106.03},{"u":1,"n":394,"p":106.00},{"u":1,"n":403,"p":105.84},{"u":1,"n":414,"p":105.65},
{"u":0,"n":9,"p":104.48},{"u":0,"n":19,"p":104.63},{"u":0,"n":22,"p":104.63},{"u":0,"n":32,"p":104.24},{"u":0,"n":36,"p":104.24},{"u":0,"n":44,"p":104.39},{"u":0,"n":49,"p":104.23},{"u":0,"n":54,"p":103.97},{"u":0,"n":57,"p":103.97},{"u":0,"n":67,"p":104.63},{"u":0,"n":72,"p":104.41},{"u":0,"n":80,"p":104.37},{"u":0,"n":87,"p":104.87},{"u":0,"n":91,"p":104.81},{"u":0,"n":102,"p":104.89},{"u":0,"n":104,"p":104.89},{"u":0,"n":115,"p":105.23},{"u":0,"n":125,"p":105.17},{"u":0,"n":130,"p":105.29},{"u":0,"n":135,"p":105.32},{"u":0,"n":138,"p":105.32},{"u":0,"n":148,"p":105.21},{"u":0,"n":158,"p":105.51},{"u":0,"n":163,"p":105.43},{"u":0,"n":172,"p":105.23},{"u":0,"n":175,"p":105.27},{"u":0,"n":190,"p":105.31},{"u":0,"n":204,"p":105.50},{"u":0,"n":211,"p":105.55},{"u":0,"n":220,"p":105.39},{"u":0,"n":229,"p":105.38},{"u":0,"n":233,"p":105.38},{"u":0,"n":236,"p":105.38},{"u":0,"n":242,"p":105.38},{"u":0,"n":249,"p":105.40},{"u":0,"n":253,"p":105.48},{"u":0,"n":259,"p":105.44},{"u":0,"n":262,"p":105.48},{"u":0,"n":267,"p":104.90},{"u":0,"n":274,"p":105.09},{"u":0,"n":283,"p":105.19},{"u":0,"n":304,"p":105.65},{"u":0,"n":310,"p":105.58},{"u":0,"n":318,"p":105.48},{"u":0,"n":325,"p":105.55},{"u":0,"n":347,"p":105.81},{"u":0,"n":366,"p":105.88},{"u":0,"n":371,"p":105.90},{"u":0,"n":379,"p":105.92},{"u":0,"n":383,"p":105.77},{"u":0,"n":392,"p":105.78},{"u":0,"n":397,"p":105.58},{"u":0,"n":401,"p":105.55}
],
"dash":[{"n":0,"p":105.818},{"n":109,"p":105.842},{"n":216,"p":105.870},{"n":323,"p":105.899},{"n":465,"p":105.939}],
"chan":[{"g":1,"n":17,"p":104.23},{"g":1,"n":109,"p":105.35},{"g":2,"n":55,"p":103.98},{"g":2,"n":109,"p":105.08},{"g":3,"n":142,"p":105.63},{"g":3,"n":245,"p":105.97},{"g":4,"n":142,"p":105.52},{"g":4,"n":245,"p":105.90},{"g":5,"n":148,"p":105.21},{"g":5,"n":323,"p":105.78},{"g":6,"n":233,"p":105.58},{"g":6,"n":323,"p":105.81}],
"lvl":[{"p":106.106,"t":"106.106","k":"a"},{"p":105.971,"t":"105.971","k":"a"},{"p":105.784,"t":"105.784","k":"b"},{"p":105.530,"t":"105.530","k":"b"},{"p":105.305,"t":"105.305","k":"b"},{"p":105.200,"t":"105.200","k":"b"},{"p":105.099,"t":"105.099","k":"b"},{"p":104.670,"t":"104.670","k":"a"},{"p":104.207,"t":"104.207","k":"a"},{"p":103.988,"t":"103.988","k":"a"},{"p":105.484,"t":"105.484","k":"c"}],
"wave":[{"n":5,"p":104.47,"t":"3","g":"b"},{"n":28,"p":104.98,"t":"4","g":"b"},{"n":59,"p":105.04,"t":"1","g":"b"},{"n":85,"p":104.45,"t":"2","g":"b"},{"n":65,"p":104.02,"t":"5","g":"b"},{"n":68,"p":104.02,"t":"v","g":"c"},{"n":72,"p":104.02,"t":"(v)","g":"n"},{"n":77,"p":104.02,"t":"C","g":"r"},{"n":82,"p":104.02,"t":"(E)","g":"s"},{"n":214,"p":106.02,"t":"i ?","g":"c"},{"n":215,"p":105.91,"t":"3","g":"b"},{"n":251,"p":105.81,"t":"(b)","g":"g"},{"n":231,"p":105.33,"t":"(a)","g":"g"},{"n":270,"p":105.34,"t":"1","g":"b"},{"n":279,"p":105.14,"t":"2","g":"b"},{"n":267,"p":104.83,"t":"(c)","g":"g"},{"n":267,"p":104.76,"t":"4","g":"b"},{"n":268,"p":104.62,"t":"ii ?","g":"c"},{"n":299,"p":105.85,"t":"3","g":"b"},{"n":333,"p":105.42,"t":"4","g":"b"},{"n":343,"p":106.17,"t":"5","g":"b"},{"n":347,"p":106.18,"t":"i","g":"c"},{"n":441,"p":104.71,"t":"ii","g":"c"}],
"arw":[{"n":329,"p":105.40},{"n":407,"p":105.47},{"n":410,"p":105.36}],
"fib":[{"s":"L","p":105.784,"t":"0.0"},{"s":"L","p":105.522,"t":"14.6"},{"s":"L","p":105.360,"t":"23.6"},{"s":"L","p":105.098,"t":"38.2"},{"s":"L","p":104.886,"t":"50.0"},{"s":"L","p":104.674,"t":"61.8"},{"s":"L","p":104.412,"t":"76.4"},{"s":"L","p":104.250,"t":"85.4"},{"s":"L","p":103.988,"t":"100.0"},{"s":"R","p":106.106,"t":"0.0"},{"s":"R","p":105.797,"t":"14.6"},{"s":"R","p":105.606,"t":"23.6"},{"s":"R","p":105.297,"t":"38.2"},{"s":"R","p":105.047,"t":"50.0"},{"s":"R","p":104.797,"t":"61.8"},{"s":"R","p":104.488,"t":"76.4"},{"s":"R","p":104.297,"t":"85.4"},{"s":"R","p":103.988,"t":"100.0"}],
"fibv":[{"a":447.3,"p1":105.784,"p2":103.988},{"a":456.7,"p1":106.106,"p2":103.988}],
"st":[
{"k":"g","n":0,"v":53},{"k":"g","n":3,"v":81},{"k":"g","n":6,"v":22},{"k":"g","n":9,"v":-12},{"k":"g","n":14,"v":41},{"k":"g","n":17,"v":28},{"k":"g","n":20,"v":41},{"k":"g","n":24,"v":87},{"k":"g","n":27,"v":67},{"k":"g","n":29,"v":14},{"k":"g","n":31,"v":-28},{"k":"g","n":35,"v":14},{"k":"g","n":39,"v":34},{"k":"g","n":42,"v":53},{"k":"g","n":48,"v":47},{"k":"g","n":52,"v":22},{"k":"g","n":55,"v":-2},{"k":"g","n":57,"v":14},{"k":"g","n":60,"v":87},{"k":"g","n":63,"v":93},{"k":"g","n":66,"v":81},{"k":"g","n":69,"v":73},{"k":"g","n":73,"v":47},{"k":"g","n":77,"v":47},{"k":"g","n":78,"v":14},{"k":"g","n":80,"v":4},{"k":"g","n":84,"v":117},{"k":"g","n":85,"v":121},{"k":"g","n":88,"v":81},{"k":"g","n":93,"v":81},{"k":"g","n":95,"v":83},{"k":"g","n":98,"v":73},{"k":"g","n":102,"v":47},{"k":"g","n":104,"v":41},{"k":"g","n":107,"v":87},{"k":"g","n":110,"v":101},{"k":"g","n":116,"v":67},{"k":"g","n":119,"v":81},{"k":"g","n":124,"v":28},{"k":"g","n":128,"v":87},{"k":"g","n":133,"v":73},{"k":"g","n":136,"v":47},{"k":"g","n":143,"v":81},{"k":"g","n":148,"v":-26},{"k":"g","n":153,"v":53},{"k":"g","n":156,"v":111},{"k":"g","n":159,"v":87},{"k":"g","n":163,"v":67},{"k":"g","n":165,"v":73},{"k":"g","n":167,"v":22},{"k":"g","n":169,"v":2},{"k":"g","n":173,"v":18},{"k":"g","n":177,"v":22},{"k":"g","n":180,"v":81},{"k":"g","n":184,"v":73},{"k":"g","n":188,"v":53},{"k":"g","n":193,"v":61},{"k":"g","n":196,"v":97},{"k":"g","n":198,"v":97},{"k":"g","n":202,"v":81},{"k":"g","n":204,"v":61},{"k":"g","n":209,"v":73},{"k":"g","n":214,"v":113},{"k":"g","n":216,"v":47},{"k":"g","n":218,"v":-8},{"k":"g","n":222,"v":22},{"k":"g","n":225,"v":73},{"k":"g","n":228,"v":41},{"k":"g","n":232,"v":28},{"k":"g","n":235,"v":8},{"k":"g","n":239,"v":32},{"k":"g","n":244,"v":41},{"k":"g","n":247,"v":87},{"k":"g","n":251,"v":121},{"k":"g","n":254,"v":67},{"k":"g","n":258,"v":43},{"k":"g","n":262,"v":61},{"k":"g","n":265,"v":81},{"k":"g","n":267,"v":-46},{"k":"g","n":270,"v":2},{"k":"g","n":276,"v":43},{"k":"g","n":280,"v":57},{"k":"g","n":284,"v":81},{"k":"g","n":286,"v":91},{"k":"g","n":289,"v":81},{"k":"g","n":296,"v":81},{"k":"g","n":299,"v":47},{"k":"g","n":302,"v":103},{"k":"g","n":306,"v":87},{"k":"g","n":309,"v":81},{"k":"g","n":313,"v":47},{"k":"g","n":316,"v":28},{"k":"g","n":318,"v":-2},{"k":"g","n":322,"v":28},{"k":"g","n":325,"v":41},{"k":"g","n":328,"v":2},{"k":"g","n":332,"v":47},{"k":"g","n":336,"v":67},{"k":"g","n":339,"v":107},{"k":"g","n":343,"v":123},{"k":"g","n":346,"v":87},{"k":"g","n":349,"v":73},{"k":"g","n":354,"v":73},{"k":"g","n":358,"v":61},{"k":"g","n":363,"v":53},{"k":"g","n":367,"v":73},{"k":"g","n":370,"v":28},{"k":"g","n":374,"v":67},{"k":"g","n":377,"v":53},{"k":"g","n":381,"v":83},{"k":"g","n":383,"v":-32},{"k":"g","n":386,"v":34},{"k":"g","n":388,"v":38},{"k":"g","n":392,"v":-6},{"k":"g","n":396,"v":14},{"k":"g","n":400,"v":2},{"k":"g","n":403,"v":38},{"k":"g","n":406,"v":8},{"k":"g","n":409,"v":8},{"k":"g","n":413,"v":14},{"k":"g","n":414,"v":47},{"k":"g","n":416,"v":18},
{"k":"o","n":0,"v":12},{"k":"o","n":5,"v":18},{"k":"o","n":8,"v":4},{"k":"o","n":12,"v":-22},{"k":"o","n":16,"v":-12},{"k":"o","n":22,"v":4},{"k":"o","n":27,"v":24},{"k":"o","n":30,"v":12},{"k":"o","n":35,"v":-12},{"k":"o","n":38,"v":-26},{"k":"o","n":44,"v":8},{"k":"o","n":48,"v":14},{"k":"o","n":53,"v":2},{"k":"o","n":57,"v":-28},{"k":"o","n":62,"v":14},{"k":"o","n":66,"v":73},{"k":"o","n":70,"v":91},{"k":"o","n":77,"v":67},{"k":"o","n":83,"v":53},{"k":"o","n":88,"v":93},{"k":"o","n":94,"v":107},{"k":"o","n":99,"v":111},{"k":"o","n":105,"v":103},{"k":"o","n":110,"v":107},{"k":"o","n":116,"v":111},{"k":"o","n":122,"v":101},{"k":"o","n":127,"v":93},{"k":"o","n":133,"v":85},{"k":"o","n":139,"v":87},{"k":"o","n":146,"v":63},{"k":"o","n":152,"v":53},{"k":"o","n":157,"v":87},{"k":"o","n":163,"v":97},{"k":"o","n":166,"v":73},{"k":"o","n":172,"v":22},{"k":"o","n":177,"v":-16},{"k":"o","n":182,"v":14},{"k":"o","n":187,"v":47},{"k":"o","n":193,"v":43},{"k":"o","n":199,"v":73},{"k":"o","n":208,"v":87},{"k":"o","n":214,"v":101},{"k":"o","n":218,"v":67},{"k":"o","n":224,"v":34},{"k":"o","n":229,"v":51},{"k":"o","n":235,"v":14},{"k":"o","n":242,"v":-22},{"k":"o","n":248,"v":-12},{"k":"o","n":253,"v":41},{"k":"o","n":258,"v":47},{"k":"o","n":264,"v":34},{"k":"o","n":268,"v":14},{"k":"o","n":276,"v":6},{"k":"o","n":283,"v":53},{"k":"o","n":287,"v":81},{"k":"o","n":297,"v":117},{"k":"o","n":309,"v":113},{"k":"o","n":315,"v":67},{"k":"o","n":320,"v":28},{"k":"o","n":326,"v":22},{"k":"o","n":334,"v":24},{"k":"o","n":338,"v":67},{"k":"o","n":344,"v":121},{"k":"o","n":354,"v":97},{"k":"o","n":365,"v":87},{"k":"o","n":373,"v":61},{"k":"o","n":382,"v":28},{"k":"o","n":388,"v":12},{"k":"o","n":398,"v":-18},{"k":"o","n":409,"v":-36},{"k":"o","n":416,"v":-28},
{"k":"b","n":0,"v":-26},{"k":"b","n":22,"v":-6},{"k":"b","n":44,"v":4},{"k":"b","n":60,"v":-6},{"k":"b","n":77,"v":47},{"k":"b","n":88,"v":73},{"k":"b","n":99,"v":91},{"k":"b","n":110,"v":107},{"k":"b","n":122,"v":103},{"k":"b","n":133,"v":95},{"k":"b","n":155,"v":71},{"k":"b","n":172,"v":47},{"k":"b","n":192,"v":24},{"k":"b","n":210,"v":73},{"k":"b","n":225,"v":83},{"k":"b","n":238,"v":34},{"k":"b","n":249,"v":4},{"k":"b","n":266,"v":24},{"k":"b","n":276,"v":26},{"k":"b","n":298,"v":81},{"k":"b","n":309,"v":111},{"k":"b","n":320,"v":73},{"k":"b","n":339,"v":32},{"k":"b","n":354,"v":73},{"k":"b","n":363,"v":101},{"k":"b","n":376,"v":81},{"k":"b","n":387,"v":34},{"k":"b","n":400,"v":4},{"k":"b","n":416,"v":-26}
],
"sig":[{"n":0,"v":-0.067},{"n":6,"v":-0.038},{"n":16,"v":-0.067},{"n":29,"v":-0.009},{"n":38,"v":-0.058},{"n":49,"v":-0.029},{"n":58,"v":-0.058},{"n":64,"v":0.009},{"n":72,"v":0.067},{"n":83,"v":0.038},{"n":96,"v":0.111},{"n":105,"v":0.102},{"n":119,"v":0.108},{"n":133,"v":0.067},{"n":144,"v":0.052},{"n":155,"v":0.029},{"n":164,"v":0.058},{"n":169,"v":0.038},{"n":175,"v":0.006},{"n":182,"v":-0.006},{"n":188,"v":0.029},{"n":199,"v":0.035},{"n":208,"v":0.052},{"n":216,"v":0.050},{"n":222,"v":0.023},{"n":233,"v":0.023},{"n":242,"v":-0.015},{"n":249,"v":0.006},{"n":257,"v":0.023},{"n":266,"v":0.020},{"n":276,"v":-0.052},{"n":287,"v":0.009},{"n":298,"v":0.064},{"n":309,"v":0.067},{"n":320,"v":0.029},{"n":332,"v":0.012},{"n":338,"v":0.020},{"n":348,"v":0.079},{"n":354,"v":0.090},{"n":370,"v":0.052},{"n":382,"v":0.035},{"n":387,"v":0.009},{"n":398,"v":-0.038},{"n":409,"v":-0.050},{"n":416,"v":-0.052}],
"bw":[{"n":0,"v":58},{"n":3,"v":37},{"n":9,"v":72},{"n":10,"v":110},{"n":14,"v":107},{"n":18,"v":83},{"n":23,"v":23},{"n":27,"v":30},{"n":30,"v":41},{"n":33,"v":93},{"n":36,"v":124},{"n":40,"v":124},{"n":44,"v":93},{"n":48,"v":41},{"n":53,"v":48},{"n":57,"v":93},{"n":63,"v":127},{"n":72,"v":127},{"n":75,"v":107},{"n":78,"v":23},{"n":84,"v":30},{"n":88,"v":83},{"n":94,"v":93},{"n":97,"v":100},{"n":100,"v":72},{"n":103,"v":6},{"n":108,"v":13},{"n":114,"v":37},{"n":119,"v":48},{"n":123,"v":37},{"n":125,"v":3},{"n":133,"v":-4},{"n":146,"v":-4},{"n":149,"v":6},{"n":155,"v":13},{"n":160,"v":30},{"n":168,"v":41},{"n":175,"v":51},{"n":180,"v":41},{"n":186,"v":30},{"n":193,"v":20},{"n":202,"v":20},{"n":208,"v":23},{"n":215,"v":3},{"n":222,"v":13},{"n":228,"v":37},{"n":233,"v":48},{"n":239,"v":65},{"n":244,"v":55},{"n":247,"v":13},{"n":250,"v":37},{"n":253,"v":51},{"n":258,"v":37},{"n":265,"v":13},{"n":267,"v":83},{"n":268,"v":127},{"n":276,"v":127},{"n":283,"v":100},{"n":287,"v":76},{"n":293,"v":65},{"n":298,"v":37},{"n":304,"v":17},{"n":309,"v":10},{"n":320,"v":3},{"n":332,"v":-4},{"n":338,"v":0},{"n":342,"v":58},{"n":347,"v":103},{"n":353,"v":83},{"n":358,"v":37},{"n":363,"v":-4},{"n":382,"v":-4},{"n":386,"v":23},{"n":396,"v":37},{"n":404,"v":76},{"n":412,"v":83},{"n":415,"v":48},{"n":416,"v":51}]
},
"vconcat":[
{"width":1398,"height":394,"layer":[
{"data":{"name":"lvl"},"mark":{"type":"rule"},"encoding":{"y":{"field":"p","type":"quantitative","scale":{"domain":[103.943,106.21],"nice":false,"zero":false},"axis":{"orient":"right","values":[105.665,105.38,105.24,104.95,104.81,104.525,104.38,104.095,103.95],"format":".3f","title":null}},"color":{"condition":[{"test":"datum.k=='a'","value":"#f08080"},{"test":"datum.k=='c'","value":"#4d6b6b"}],"value":"#9a4c48"},"strokeWidth":{"condition":{"test":"datum.k=='b'","value":2},"value":1}}},
{"data":{"name":"dash"},"mark":{"type":"line","color":"#3d7fc0","strokeWidth":1,"strokeDash":[3,2]},"encoding":{"x":{"field":"n","type":"quantitative","scale":{"domain":[-0.67,465.33],"nice":false,"zero":false},"axis":null},"y":{"field":"p","type":"quantitative"}}},
{"data":{"name":"fibv"},"mark":{"type":"rule","color":"#9a9a9a","strokeDash":[2,2]},"encoding":{"x":{"field":"a","type":"quantitative","axis":null},"y":{"field":"p1","type":"quantitative"},"y2":{"field":"p2"}}},
{"data":{"name":"chan"},"mark":{"type":"line","color":"#d4b000","strokeWidth":1,"strokeDash":[3,3]},"encoding":{"x":{"field":"n","type":"quantitative","axis":null},"y":{"field":"p","type":"quantitative"},"detail":{"field":"g","type":"nominal"}}},
{"data":{"name":"ind"},"transform":[{"filter":"datum.k=='bu'||datum.k=='bl'"}],"mark":{"type":"line","color":"#b4b4b4","strokeWidth":1,"interpolate":"monotone"},"encoding":{"x":{"field":"n","type":"quantitative","axis":null},"y":{"field":"p","type":"quantitative"},"detail":{"field":"k","type":"nominal"}}},
{"data":{"name":"ind"},"transform":[{"filter":"datum.k=='r'"}],"mark":{"type":"line","color":"#ff0000","strokeWidth":1.5,"interpolate":"monotone"},"encoding":{"x":{"field":"n","type":"quantitative","axis":null},"y":{"field":"p","type":"quantitative"}}},
{"data":{"name":"ind"},"transform":[{"filter":"datum.k=='u'"}],"mark":{"type":"line","color":"#2020ff","strokeWidth":1.5,"interpolate":"monotone"},"encoding":{"x":{"field":"n","type":"quantitative","axis":null},"y":{"field":"p","type":"quantitative"}}},
{"data":{"name":"ind"},"transform":[{"filter":"datum.k=='y'"}],"mark":{"type":"line","color":"#e6e600","strokeWidth":1.2,"interpolate":"monotone"},"encoding":{"x":{"field":"n","type":"quantitative","axis":null},"y":{"field":"p","type":"quantitative"}}},
{"data":{"name":"fr"},"transform":[{"filter":"datum.u==1"}],"mark":{"type":"point","shape":"M -1 0.7 L 0 -0.7 L 1 0.7","filled":false,"size":50,"color":"#5f8282","strokeWidth":1.6,"opacity":1},"encoding":{"x":{"field":"n","type":"quantitative","axis":null},"y":{"field":"p","type":"quantitative"}}},
{"data":{"name":"fr"},"transform":[{"filter":"datum.u==0"}],"mark":{"type":"point","shape":"M -1 -0.7 L 0 0.7 L 1 -0.7","filled":false,"size":50,"color":"#5f8282","strokeWidth":1.6,"opacity":1},"encoding":{"x":{"field":"n","type":"quantitative","axis":null},"y":{"field":"p","type":"quantitative"}}},
{"data":{"name":"c"},"mark":{"type":"rule","strokeWidth":1},"encoding":{"x":{"field":"n","type":"quantitative","axis":null},"y":{"field":"l","type":"quantitative"},"y2":{"field":"h"},"color":{"condition":{"test":"datum.c>=datum.o","value":"#00ff00"},"value":"#f2845c"}}},
{"data":{"name":"c"},"mark":{"type":"bar","size":3},"encoding":{"x":{"field":"n","type":"quantitative","axis":null},"y":{"field":"o","type":"quantitative"},"y2":{"field":"c"},"color":{"condition":{"test":"datum.c>=datum.o","value":"#00ff00"},"value":"#f2845c"}}},
{"data":{"name":"wave"},"mark":{"type":"text","fontSize":10,"font":"DejaVu Sans","align":"center","baseline":"middle"},"encoding":{"x":{"field":"n","type":"quantitative","axis":null},"y":{"field":"p","type":"quantitative"},"text":{"field":"t"},"color":{"condition":[{"test":"datum.g=='b'","value":"#3c64dc"},{"test":"datum.g=='c'","value":"#1ab4b4"},{"test":"datum.g=='g'","value":"#b4b4b4"},{"test":"datum.g=='n'","value":"#22a022"},{"test":"datum.g=='r'","value":"#d02020"}],"value":"#4a78b4"}}},
{"data":{"name":"arw"},"mark":{"type":"point","shape":"arrow","filled":true,"size":220,"color":"#0a8a0a","opacity":1},"encoding":{"x":{"field":"n","type":"quantitative","axis":null},"y":{"field":"p","type":"quantitative"}}},
{"data":{"name":"fib"},"transform":[{"filter":"datum.s=='L'"}],"mark":{"type":"text","fontSize":8,"align":"left","baseline":"bottom","color":"#c8c8c8","dy":-1},"encoding":{"x":{"datum":447.3,"axis":null},"y":{"field":"p","type":"quantitative"},"text":{"field":"t"}}},
{"data":{"name":"fib"},"transform":[{"filter":"datum.s=='R'"}],"mark":{"type":"text","fontSize":8,"align":"right","baseline":"bottom","color":"#c8c8c8","dy":-1},"encoding":{"x":{"datum":464.7,"axis":null},"y":{"field":"p","type":"quantitative"},"text":{"field":"t"}}},
{"data":{"values":[{"t":"▼ USDJPY,H1  105.499 105.517 105.483 105.484"}]},"mark":{"type":"text","fontSize":9,"align":"left","baseline":"middle","color":"#ffffff"},"encoding":{"x":{"datum":0.6,"axis":null},"y":{"datum":106.178},"text":{"field":"t"}}},
{"data":{"name":"lvl"},"mark":{"type":"tick","orient":"horizontal","size":33,"thickness":11,"xOffset":17,"opacity":1},"encoding":{"x":{"datum":465.33,"axis":null},"y":{"field":"p","type":"quantitative"},"color":{"condition":{"test":"datum.k=='c'","value":"#ffffff"},"value":"#f4857a"}}},
{"data":{"name":"lvl"},"mark":{"type":"text","fontSize":9,"dx":17,"align":"center","baseline":"middle","color":"#000000"},"encoding":{"x":{"datum":465.33,"axis":null},"y":{"field":"p","type":"quantitative"},"text":{"field":"t"}}}
]},
{"width":1398,"height":98,"layer":[
{"data":{"values":[{"v":97},{"v":-18}]},"mark":{"type":"rule","color":"#c8c8c8","strokeDash":[2,2]},"encoding":{"y":{"field":"v","type":"quantitative","scale":{"domain":[-55.73,138.71],"nice":false,"zero":false},"axis":{"orient":"right","values":[138.71,0,-55.73],"labelOverlap":false,"format":".2f","labelBaseline":{"condition":[{"test":"datum.value>130","value":"top"},{"test":"datum.value<-50","value":"bottom"}],"value":"middle"},"title":null}}}},
{"mark":{"type":"rule","color":"#c8c8c8","strokeDash":[10,3,2,3]},"encoding":{"y":{"datum":46.4}}},
{"mark":{"type":"rule","color":"#4a4a4a","strokeWidth":2},"encoding":{"y":{"datum":0}}},
{"data":{"name":"st"},"transform":[{"filter":"datum.k=='b'"}],"mark":{"type":"line","color":"#1e8cff","strokeWidth":1,"interpolate":"monotone"},"encoding":{"x":{"field":"n","type":"quantitative","scale":{"domain":[-0.67,465.33],"nice":false,"zero":false},"axis":null},"y":{"field":"v","type":"quantitative"}}},
{"data":{"name":"st"},"transform":[{"filter":"datum.k=='o'"}],"mark":{"type":"line","color":"#ff9010","strokeWidth":2,"interpolate":"monotone"},"encoding":{"x":{"field":"n","type":"quantitative","axis":null},"y":{"field":"v","type":"quantitative"}}},
{"data":{"name":"st"},"transform":[{"filter":"datum.k=='g'"}],"mark":{"type":"line","color":"#7cfc00","strokeWidth":2},"encoding":{"x":{"field":"n","type":"quantitative","axis":null},"y":{"field":"v","type":"quantitative"}}},
{"mark":{"type":"rect","fill":"#000000","stroke":"#ffffff","strokeWidth":1},"encoding":{"x":{"datum":465.67,"axis":null},"x2":{"datum":474.3},"y":{"datum":57},"y2":{"datum":36}}},
{"data":{"values":[{"t":"50.50"}]},"mark":{"type":"text","fontSize":8,"dx":4,"align":"left","baseline":"middle","color":"#ffffff"},"encoding":{"x":{"datum":465.33,"axis":null},"y":{"datum":46.4},"text":{"field":"t"}}},
{"data":{"values":[{"v":97,"t":"80"},{"v":-18,"t":"20"}]},"mark":{"type":"text","fontSize":8,"dx":5,"align":"left","baseline":"middle","color":"#ffffff"},"encoding":{"x":{"datum":465.33,"axis":null},"y":{"field":"v","type":"quantitative"},"text":{"field":"t"}}},
{"data":{"values":[{"t":"%b (20,2) 19.48  Stoch(23,23,10) 12.7530 16.3039  Stoch(14,5,3) 27.2560 23.8400"}]},"mark":{"type":"text","fontSize":8,"align":"left","baseline":"middle","color":"#ffffff"},"encoding":{"x":{"datum":0.6,"axis":null},"y":{"datum":125},"text":{"field":"t"}}}
]},
{"width":1398,"height":82,"layer":[
{"data":{"name":"c"},"mark":{"type":"bar","size":2,"color":"#1c1c84"},"encoding":{"x":{"field":"n","type":"quantitative","scale":{"domain":[-0.67,465.33],"nice":false,"zero":false},"axis":null},"y":{"field":"v","type":"quantitative","scale":{"domain":[-0.105,0.1342],"nice":false,"zero":false},"axis":{"orient":"right","values":[0.1342,0,-0.105],"labelOverlap":false,"labelExpr":"datum.value==0?'0.00':datum.value>0?'0.1342':'-0.1354'","labelBaseline":{"condition":[{"test":"datum.value>0.1","value":"top"},{"test":"datum.value<-0.1","value":"bottom"}],"value":"middle"},"title":null}},"y2":{"datum":0}}},
{"data":{"name":"c"},"mark":{"type":"bar","size":2},"encoding":{"x":{"field":"n","type":"quantitative","axis":null},"y":{"field":"d","type":"quantitative"},"y2":{"datum":0},"color":{"condition":{"test":"datum.d>=0","value":"#12b012"},"value":"#b00000"}}},
{"data":{"name":"c"},"mark":{"type":"point","shape":"square","filled":true,"size":7,"opacity":1},"encoding":{"x":{"field":"n","type":"quantitative","axis":null},"y":{"datum":0},"color":{"condition":{"test":"datum.q==1","value":"#ff2020"},"value":"#ffffff"}}},
{"data":{"name":"sig"},"mark":{"type":"line","color":"#ff1010","strokeWidth":1,"interpolate":"monotone"},"encoding":{"x":{"field":"n","type":"quantitative","axis":null},"y":{"field":"v","type":"quantitative"}}},
{"data":{"values":[{"t":"MACD(12,24,9) -0.0719 -0.0789  ITC_TTM_Squeeze(20,2.0,1.5) 0.0000 -0.1085 0.0000"}]},"mark":{"type":"text","fontSize":8,"align":"left","baseline":"middle","color":"#ffffff"},"encoding":{"x":{"datum":0.6,"axis":null},"y":{"datum":0.117},"text":{"field":"t"}}}
]},
{"width":1398,"height":42,"layer":[
{"data":{"name":"bw"},"mark":{"type":"line","color":"#e0e0e0","strokeWidth":1,"interpolate":"monotone"},"encoding":{"x":{"field":"n","type":"quantitative","scale":{"domain":[-0.67,465.33],"nice":false,"zero":false},"axis":{"orient":"bottom","values":[0,16,32,48,64,80,96,112,128,144,160,176,192,208,224,240,256,272,288,304,320,336,352,368,384,400,416],"labelExpr":"['17 Sep 2020','17 Sep 18:00','18 Sep 10:00','21 Sep 02:00','21 Sep 18:00','22 Sep 10:00','23 Sep 02:00','23 Sep 18:00','24 Sep 10:00','25 Sep 02:00','25 Sep 18:00','28 Sep 10:00','29 Sep 02:00','29 Sep 18:00','30 Sep 10:00','1 Oct 02:00','1 Oct 18:00','2 Oct 10:00','5 Oct 02:00','5 Oct 18:00','6 Oct 10:00','7 Oct 02:00','7 Oct 18:00','8 Oct 10:00','9 Oct 02:00','9 Oct 18:00','12 Oct 10:00'][round(datum.value/16)]","labelAlign":"left","labelFontSize":7,"labelPadding":1,"labelOverlap":false,"labelBound":false,"labelFlush":false,"title":null}},"y":{"field":"v","type":"quantitative","scale":{"domain":[-21.7,127.8],"nice":false,"zero":false},"axis":{"orient":"right","values":[100,20],"title":null}}}},
{"data":{"values":[{"v":100}]},"mark":{"type":"rule","color":"#a8916c","strokeDash":[8,3,2,3]},"encoding":{"y":{"field":"v","type":"quantitative"}}},
{"data":{"values":[{"v":20}]},"mark":{"type":"rule","color":"#e0d0a8","strokeDash":[8,3,2,3]},"encoding":{"y":{"field":"v","type":"quantitative"}}},
{"data":{"values":[{"t":"Bandwidth(20,2) 41.1673"}]},"mark":{"type":"text","fontSize":8,"align":"left","baseline":"middle","color":"#ffffff"},"encoding":{"x":{"datum":0.6},"y":{"datum":107},"text":{"field":"t"}}}
]}
]
}
